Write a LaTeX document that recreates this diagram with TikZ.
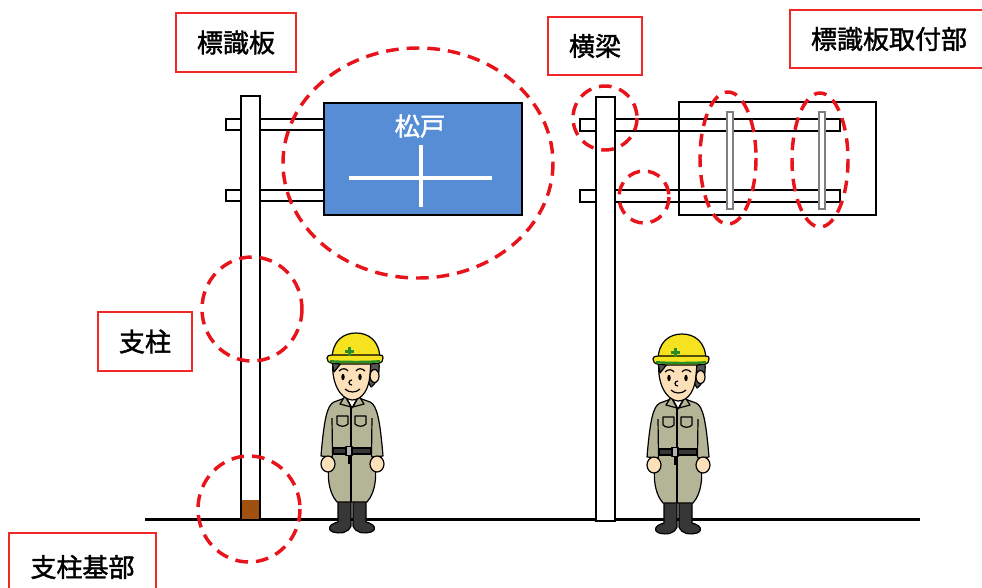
\documentclass[tikz,border=0pt]{standalone}
\usepackage{fontspec}
\setmainfont{Noto Sans CJK JP}
\newfontfamily\labelfont{Noto Sans CJK JP}[FakeBold=1.6]
\definecolor{signblue}{RGB}{86,141,213}
\definecolor{markred}{RGB}{232,20,28}
\definecolor{boxred}{RGB}{240,40,40}
\definecolor{basebrown}{RGB}{160,80,15}
\definecolor{helmet}{RGB}{246,226,30}
\definecolor{hatgreen}{RGB}{40,140,40}
\definecolor{khaki}{RGB}{180,180,150}
\definecolor{skin}{RGB}{252,224,185}
\definecolor{hair}{RGB}{85,85,85}
\definecolor{boot}{RGB}{55,55,55}
\tikzset{
  worker/.pic={
    \begin{scope}[line width=0.9pt, line join=round]
      % boots
      \filldraw[fill=boot] (-14,70) -- (-1,70) -- (-1,96) .. controls (-4,103) and (-11,104) .. (-19,102)
        .. controls (-26,99) and (-22,94) .. (-14,92) -- cycle;
      \filldraw[fill=boot] (1,70) -- (14,70) -- (14,92) .. controls (22,94) and (26,99) .. (19,102)
        .. controls (11,104) and (4,103) .. (1,96) -- cycle;
      % trousers
      \filldraw[fill=khaki] (-19,22) .. controls (-27,40) and (-24,62) .. (-15,72) -- (15,72)
        .. controls (24,62) and (27,40) .. (19,22) -- cycle;
      \draw (-1,24) -- (-1,72);
      % jacket
      \filldraw[fill=khaki] (-7,-32) -- (-18,-28) .. controls (-25,-25) and (-28,-10) .. (-31,26)
        -- (-20,27) -- (-18,20) -- (18,20) -- (20,27) -- (31,26)
        .. controls (28,-10) and (25,-25) .. (18,-28) -- (7,-32) -- cycle;
      \draw (-20,-12) -- (-19.5,24);
      \draw (20,-12) -- (19.5,24);
      % shirt and collar
      \filldraw[fill=white] (-6,-33) -- (6,-33) -- (0,-22) -- cycle;
      \filldraw[fill=khaki] (-7,-34) -- (-1,-23) -- (-12,-26) -- cycle;
      \filldraw[fill=khaki] (7,-34) -- (1,-23) -- (12,-26) -- cycle;
      \draw (-1,-23) -- (-1,20);
      % chest pockets
      \draw (-15,-14) -- (-4,-14) -- (-4,-6) .. controls (-7,-3) and (-12,-3) .. (-15,-6) -- cycle;
      \draw (3,-14) -- (14,-14) -- (14,-6) .. controls (11,-3) and (6,-3) .. (3,-6) -- cycle;
      % belt
      \filldraw[fill=boot] (-19,18) rectangle (19,24);
      \filldraw[fill=gray!60] (-6,16.5) rectangle (0,25.5);
      \draw (-3,25.5) -- (-3,34);
      % hands
      \filldraw[fill=skin] (-24,34) ellipse [x radius=7, y radius=8];
      \filldraw[fill=skin] (25,34) ellipse [x radius=7, y radius=8];
      % head
      \filldraw[fill=hair] (12,-68) -- (27,-68) .. controls (28,-56) and (25,-47) .. (19,-43) -- (14,-52) -- cycle;
      \filldraw[fill=skin] (-19,-68) .. controls (-21,-50) and (-13,-31) .. (0,-30)
        .. controls (11,-30) and (17,-42) .. (18,-55) -- (19,-68) -- cycle;
      \filldraw[fill=hair] (-20,-68) -- (-10,-68) -- (-18,-58) -- cycle;
      \filldraw[fill=skin] (22.5,-54) ellipse [x radius=4.5, y radius=6.5];
      \fill (-9,-53) ellipse [x radius=1.7, y radius=3.2];
      \fill (8,-53) ellipse [x radius=1.7, y radius=3.2];
      \draw (-13,-59) .. controls (-10,-62) and (-6,-62) .. (-4,-59);
      \draw (4,-59) .. controls (6,-62) and (10,-62) .. (13,-59);
      \draw (0,-50) .. controls (-4,-50) and (-4,-45) .. (0,-45);
      \draw (-7,-41) .. controls (-3,-37) and (4,-37) .. (8,-41);
      % helmet
      \filldraw[fill=helmet] (-20,-70) .. controls (-20,-90) and (-8,-97) .. (4,-97)
        .. controls (16,-97) and (28,-90) .. (28,-70) -- cycle;
      \filldraw[fill=helmet] (-25,-72) .. controls (-25,-76) and (-20,-75) .. (4,-75)
        .. controls (28,-75) and (32,-76) .. (31,-72) .. controls (31,-66) and (27,-66) .. (4,-66)
        .. controls (-20,-66) and (-25,-66) .. (-25,-72) -- cycle;
      \draw[hatgreen, line width=1.8pt] (-22,-68.8) .. controls (-10,-67.8) and (18,-67.8) .. (28,-68.8);
      \fill[hatgreen] (-4.5,-83) rectangle (-1.5,-74);
      \fill[hatgreen] (-7.5,-80) rectangle (1.5,-77);
    \end{scope}
  }
}
\begin{document}
\begin{tikzpicture}[x=0.75pt, y=-0.75pt,
  part/.style={draw=black, line width=2pt, fill=white},
  ring/.style={draw=markred, line width=2.6pt, dash pattern=on 9.5pt off 6pt},
  lbl/.style={draw=boxred, line width=1pt, inner sep=0pt, font=\labelfont\fontsize{19.5}{22}\selectfont}]
  \useasboundingbox (0,0) rectangle (982,587);

  % ground
  \draw[line width=2pt] (145,519.5) -- (920,519.5);

  % left gantry: arms, pole, sign
  \draw[part] (226,119) rectangle (325,130);
  \draw[part] (226,190) rectangle (325,201);
  \draw[part] (241,96) rectangle (260,519.5);
  \fill[basebrown] (242,500) rectangle (259,518.5);
  \draw[line width=2pt] (241,519.5) -- (241,500);
  \draw[line width=2pt] (260,519.5) -- (260,500);
  \draw[draw=black, line width=2pt, fill=signblue] (324,103) rectangle (522,215);
  \node[text=white, font=\labelfont\fontsize{19}{20}\selectfont] (signname) at (420,126) {松戸};
  \draw[white, line width=3pt] (349,178) -- (492,178);
  \draw[white, line width=3pt] (421,145) -- (421,207);

  % right gantry: arms, pole, sign frame, clamps
  \draw[part, fill=none] (580,119) rectangle (840,131);
  \draw[part, fill=none] (580,190) rectangle (840,202);
  \draw[part] (596,97) rectangle (615,521);
  \draw[draw=black, line width=2pt] (679,102) rectangle (876,215);
  \draw[draw=gray, line width=1.2pt, fill=white] (727,112) rectangle (733,209);
  \draw[draw=gray, line width=1.2pt, fill=white] (819,112) rectangle (825,209);

  % workers
  \pic (workerA) at (352,430) {worker};
  \pic (workerB) at (678,431) {worker};

  % inspection points
  \draw[ring] (418,163) ellipse [x radius=135, y radius=115];
  \draw[ring] (252,309) ellipse [x radius=50, y radius=52];
  \draw[ring] (249,509) ellipse [x radius=51, y radius=53];
  \draw[ring] (605,118) ellipse [x radius=32, y radius=32];
  \draw[ring] (644,197) ellipse [x radius=25, y radius=26];
  \draw[ring] (728,158) ellipse [x radius=28, y radius=66];
  \draw[ring] (820,160) ellipse [x radius=28, y radius=67];

  % labels
  \node[lbl, minimum width=90pt, minimum height=44.25pt] (lsign) at (236,42.5) {標識板};
  \node[lbl, minimum width=70.5pt, minimum height=43.5pt] (lbeam) at (595,46) {横梁};
  \node[lbl, minimum width=148.5pt, minimum height=43.5pt] (lmount) at (889,39) {標識板取付部};
  \node[lbl, minimum width=70.5pt, minimum height=44.25pt] (lpole) at (145,341.5) {支柱};
  \node[lbl, minimum width=110.25pt, minimum height=51pt] (lbase) at (82.5,567) {支柱基部};
\end{tikzpicture}
\end{document}
